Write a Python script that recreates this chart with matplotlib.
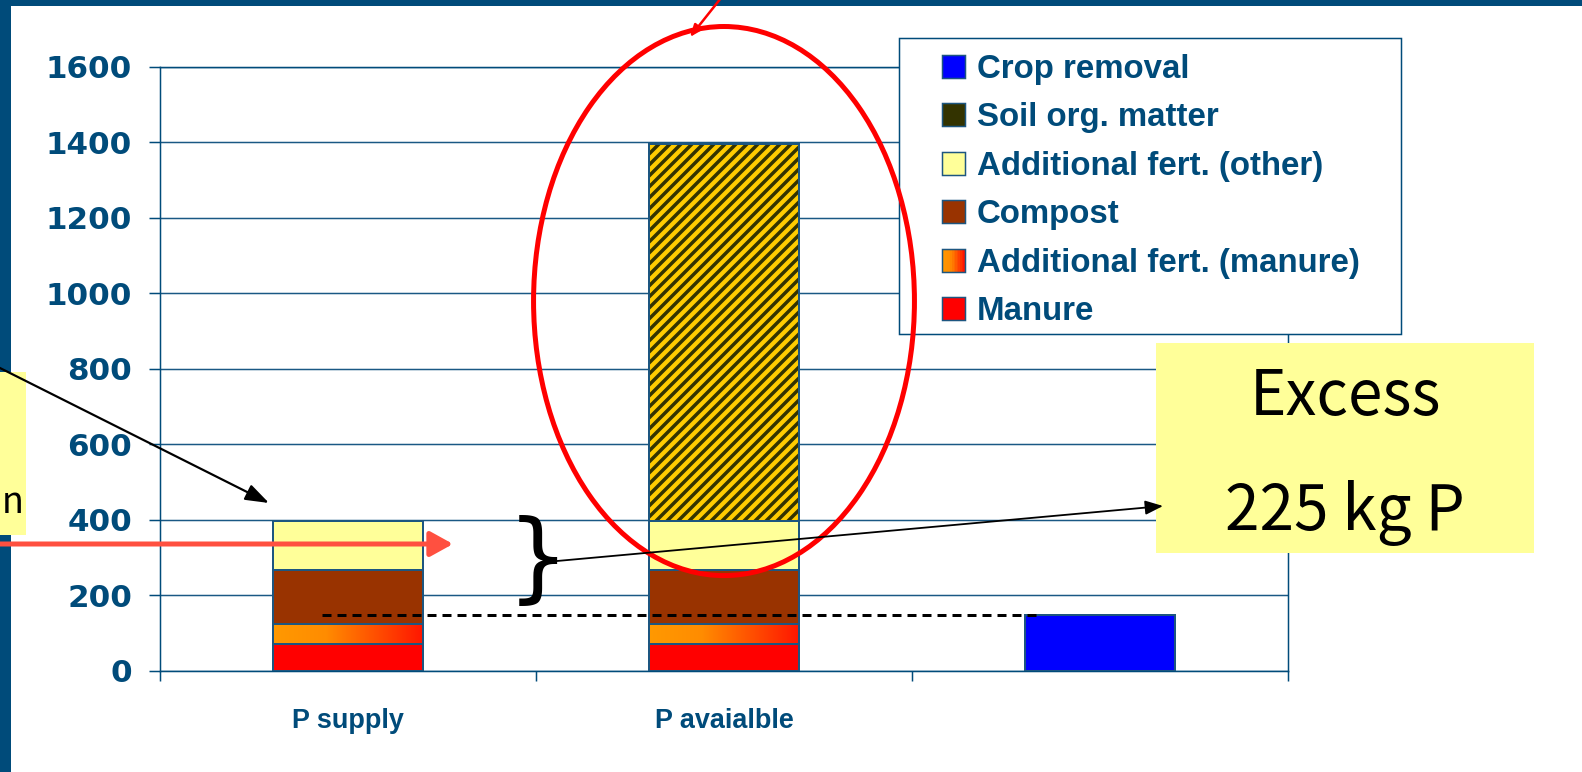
import numpy as np
import matplotlib
matplotlib.use('Agg')
import matplotlib.pyplot as plt
from matplotlib.patches import Rectangle, Ellipse, Patch, FancyArrowPatch
from matplotlib.colors import LinearSegmentedColormap
from matplotlib.legend_handler import HandlerBase
from matplotlib.font_manager import FontProperties

W, H, DPI = 1582, 772, 132
PT = 72 / DPI          # one pixel in points

# data (kg P)
categories = ['P supply', 'P avaialble', '']
manure = [70, 70, 0]
add_manure = [52, 52, 0]
compost = [143, 143, 0]
add_other = [130, 130, 0]
soil_om = [0, 1000, 0]
crop_removal = [0, 0, 148]
yticks = [0, 200, 400, 600, 800, 1000, 1200, 1400, 1600]

legend_labels = ['Crop removal', 'Soil org. matter', 'Additional fert. (other)',
                 'Compost', 'Additional fert. (manure)', 'Manure']

BLUE = '#004B7A'
GRID = '#1A5884'
EDGE = '#1D5680'
grad_cmap = LinearSegmentedColormap.from_list(
    'mangrad', [(0, '#FF9900'), (0.35, '#FF8C00'), (1, '#FF1500')])

plt.rcParams['hatch.linewidth'] = 1.9
plt.rcParams['lines.scale_dashes'] = False


def fxy(px, py):
    '''pixel position (from top left) -> figure fraction'''
    return (px / W, 1 - py / H)


class GradientHandler(HandlerBase):
    '''legend key with an orange -> red gradient'''
    def create_artists(self, legend, orig_handle, xdescent, ydescent,
                       width, height, fontsize, trans):
        steps = 14
        arts = []
        for i in range(steps):
            r = Rectangle((-xdescent + width * i / steps, -ydescent), width / steps + 0.3,
                          height, facecolor=grad_cmap(i / (steps - 1)),
                          edgecolor='none', transform=trans)
            arts.append(r)
        arts.append(Rectangle((-xdescent, -ydescent), width, height, facecolor='none',
                              edgecolor=EDGE, lw=1.5 * PT, transform=trans))
        return arts


fig = plt.figure(figsize=(W / DPI, H / DPI), dpi=DPI)
fig.patch.set_facecolor('white')
ax = fig.add_axes([160 / W, 1 - 670.5 / H, 1128 / W, 603.8 / H])

x = np.arange(len(categories))
bw = 0.4
bottom = np.zeros(len(categories))


def stack(vals, **kw):
    vals = np.array(vals, dtype=float)
    idx = vals > 0
    bars = ax.bar(x[idx], vals[idx], bw, bottom=bottom[idx], **kw)
    bottom[idx] += vals[idx]
    return bars


stack(manure, color='#FF0000', edgecolor=EDGE, linewidth=2 * PT, zorder=3)

# gradient segment: outline bars + gradient images underneath
gbars = stack(add_manure, facecolor='none', edgecolor=EDGE, linewidth=2 * PT, zorder=3)
grad = np.linspace(0, 1, 256).reshape(1, -1)
for r in gbars:
    ax.imshow(grad, extent=(r.get_x(), r.get_x() + r.get_width(),
                            r.get_y(), r.get_y() + r.get_height()),
              cmap=grad_cmap, aspect='auto', interpolation='bicubic', zorder=2.5)

stack(compost, color='#993300', edgecolor=EDGE, linewidth=2 * PT, zorder=3)
stack(add_other, color='#FFFF99', edgecolor=EDGE, linewidth=2 * PT, zorder=3)

# soil organic matter: gold with dark stripes
b0 = bottom.copy()
stack(soil_om, color='#FFCC00', linewidth=0, zorder=3)
som = np.array(soil_om, dtype=float)
m = som > 0
ax.bar(x[m], som[m], bw, bottom=b0[m], facecolor='none', edgecolor='#333300',
       linewidth=0, hatch='////', zorder=3.1)
ax.bar(x[m], som[m], bw, bottom=b0[m], fill=False, edgecolor=EDGE,
       linewidth=2 * PT, zorder=3.2)

stack(crop_removal, color='#0000FF', edgecolor=EDGE, linewidth=2 * PT, zorder=3)

# crop removal reference line
ax.plot([-0.07, 1.84], [crop_removal[2], crop_removal[2]], color='black',
        lw=3 * PT, dashes=(9 * PT, 6 * PT), zorder=4)

ax.set_xlim(-0.5, 2.5)
ax.set_ylim(0, 1600)

# axes styling
ax.set_axisbelow(True)
ax.yaxis.grid(True, color=GRID, lw=1.5 * PT)
for s in ax.spines.values():
    s.set_color(BLUE)
    s.set_linewidth(1.5 * PT)

ax.set_yticks(yticks)
ax.tick_params(axis='y', length=11 * PT, width=1.5 * PT, color=BLUE, pad=17 * PT,
               labelcolor=BLUE)
for t in ax.get_yticklabels():
    t.set_fontproperties(FontProperties(family='DejaVu Sans', weight='bold', size=31 * PT))

ax.set_xticks(x)
ax.set_xticklabels(categories)
ax.set_xticks([-0.5, 0.5, 1.5, 2.5], minor=True)
ax.tick_params(axis='x', which='major', length=0, pad=37 * PT, labelcolor=BLUE)
ax.tick_params(axis='x', which='minor', length=10 * PT, width=1.5 * PT, color=BLUE)
for t in ax.get_xticklabels():
    t.set_fontproperties(FontProperties(family='Liberation Sans', weight='bold', size=27 * PT))

# legend: frame drawn by hand, entries from matplotlib
fx0, fy1 = fxy(899, 38)
fx1, fy0 = fxy(1401, 334)
ax.add_patch(Rectangle((fx0, fy0), fx1 - fx0, fy1 - fy0, transform=fig.transFigure,
                       facecolor='white', edgecolor=BLUE, lw=1.5 * PT, zorder=4.9,
                       clip_on=False))
grad_handle = Patch(facecolor='#FF9900')
handles = [Patch(facecolor='#0000FF', edgecolor=EDGE, lw=1.5 * PT),
           Patch(facecolor='#333300', edgecolor=EDGE, lw=1.5 * PT),
           Patch(facecolor='#FFFF99', edgecolor=EDGE, lw=1.5 * PT),
           Patch(facecolor='#993300', edgecolor=EDGE, lw=1.5 * PT),
           grad_handle,
           Patch(facecolor='#FF0000', edgecolor=EDGE, lw=1.5 * PT)]
leg = ax.legend(handles, legend_labels, loc='upper left',
                bbox_to_anchor=fxy(942, 54), bbox_transform=fig.transFigure,
                prop=FontProperties(family='Liberation Sans', weight='bold', size=33 * PT),
                labelcolor=BLUE, frameon=False, borderpad=0, borderaxespad=0,
                handlelength=23 / 33, handleheight=23 / 33, handletextpad=12 / 33,
                labelspacing=0.53, handler_map={grad_handle: GradientHandler()})
leg.set_zorder(5)

# red ellipse around the P available bar
ax.add_patch(Ellipse((1.0, 979), 1.013, 1455, facecolor='none', edgecolor='#FF0000',
                     lw=5 * PT, zorder=6, clip_on=False))

# slide frame (dark blue bands)
fig.patches.append(Rectangle((0, 0), 11 / W, 1, transform=fig.transFigure,
                             facecolor=BLUE, edgecolor='none', zorder=1))
fig.patches.append(Rectangle(fxy(0, 6), 1, 6 / H, transform=fig.transFigure,
                             facecolor=BLUE, edgecolor='none', zorder=1))

# partial yellow note on the left
fig.patches.append(Rectangle(fxy(0, 535), 26 / W, 163 / H, transform=fig.transFigure,
                             facecolor='#FFFF99', edgecolor='none', zorder=2))
fig.text(*fxy(2, 513), 'n', ha='left', va='baseline', color='black',
         fontsize=36 * PT, family=['Noto Sans CJK JP', 'DejaVu Sans'], zorder=3)

# excess note
fig.patches.append(Rectangle(fxy(1156, 553), 378 / W, 210 / H, transform=fig.transFigure,
                             facecolor='#FFFF99', edgecolor='none', zorder=2))
fig.text(*fxy(1345, 415), 'Excess', ha='center', va='baseline', color='black',
         fontsize=62 * PT, family=['Noto Sans CJK JP', 'DejaVu Sans'], zorder=3)
fig.text(*fxy(1345, 530), '225 kg P', ha='center', va='baseline', color='black',
         fontsize=62 * PT, family=['Noto Sans CJK JP', 'DejaVu Sans'], zorder=3)

# brace
fig.text(*fxy(538, 563), '}', ha='center', va='center', color='black',
         fontsize=98 * PT, family='DejaVu Sans', zorder=3)


def arrow(p0, p1, color, lw, hl, hw):
    a = FancyArrowPatch(fxy(*p0), fxy(*p1), transform=fig.transFigure,
                        arrowstyle='-|>,head_length=%.2f,head_width=%.2f' % (hl * PT, hw * PT),
                        mutation_scale=1, color=color, lw=lw * PT,
                        shrinkA=0, shrinkB=0, zorder=4)
    fig.patches.append(a)


arrow((557, 561), (1163, 506), 'black', 1.8, 15, 6)
arrow((-10, 363), (269, 503), 'black', 2.2, 20, 7)
arrow((-5, 544), (453, 544), '#FF5040', 5, 19, 10.5)
arrow((721, -2), (690, 37), '#FF0000', 2.5, 10, 4)

fig.savefig('out.png', dpi=DPI)
